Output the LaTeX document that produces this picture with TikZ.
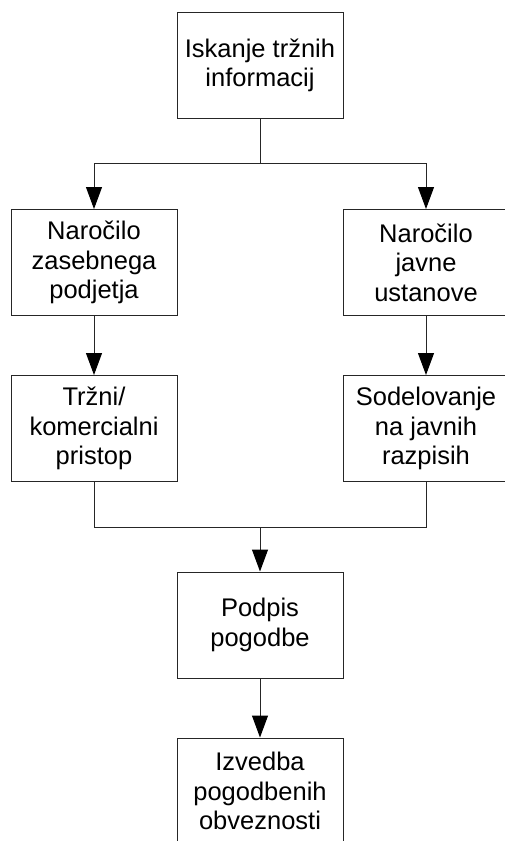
\documentclass[tikz,border=0pt]{standalone}
\usepackage{fontspec}
\setmainfont{Liberation Sans}
\usetikzlibrary{arrows.meta}
\begin{document}
\begin{tikzpicture}[x=1pt,y=-1pt,
  stepbox/.style={draw=black!85, line width=1pt, fill=white,
    minimum width=166pt, minimum height=106pt, inner sep=0pt,
    align=center, font=\fontsize{25.5pt}{29.5pt}\selectfont},
  link/.style={draw=black!85, line width=1pt},
  arrowlink/.style={link, -{Triangle[length=22pt,width=16pt,fill=black,color=black]}}]
  \useasboundingbox (0,0) rectangle (505,841);
  \clip (0,0) rectangle (505,841);
  \fill[white] (0,0) rectangle (505,841);

  % process boxes
  \node[stepbox] (search)  at (260,65.5)  {Iskanje tržnih\\informacij};
  \node[stepbox] (private) at (94,262.5)  {Naročilo\\zasebnega\\podjetja};
  \node[stepbox] (public)  at (426,262.5) {Naročilo\\javne\\ustanove};
  \node[stepbox] (market)  at (94,428.5)  {Tržni/\\komercialni\\pristop};
  \node[stepbox] (tender)  at (426,428.5) {Sodelovanje\\na javnih\\razpisih};
  \node[stepbox] (sign)    at (260,625)   {Podpis\\pogodbe};
  \node[stepbox] (execute) at (260,791)   {Izvedba\\pogodbenih\\obveznosti};

  % junction points of the branching lines
  \coordinate (split) at (260,163);
  \coordinate (merge) at (260,527);

  % branch from the search step
  \draw[link] (search.south) -- (split);
  \draw[link] (private.north |- split) -- (public.north |- split);
  \draw[arrowlink] (private.north |- split) -- (private.north);
  \draw[arrowlink] (public.north |- split) -- (public.north);

  % the two parallel paths
  \draw[arrowlink] (private.south) -- (market.north);
  \draw[arrowlink] (public.south) -- (tender.north);

  % paths merge again
  \draw[link] (market.south) -- (market.south |- merge) -- (tender.south |- merge) -- (tender.south);
  \draw[arrowlink] (merge) -- (sign.north);

  \draw[arrowlink] (sign.south) -- (execute.north);
\end{tikzpicture}
\end{document}
